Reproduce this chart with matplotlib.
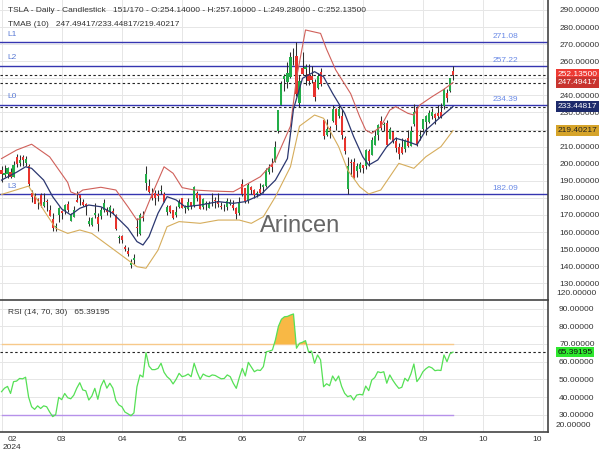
import matplotlib
matplotlib.use('Agg')
import matplotlib.pyplot as plt
from matplotlib.transforms import blended_transform_factory, ScaledTranslation
import numpy as np

plt.rcParams['font.family'] = ['Liberation Sans', 'DejaVu Sans']

# daily candles, bar index 0..150
opens = [196.13, 193.36, 194.00, 195.31, 192.29, 204.04, 200.42, 204.18, 200.52, 198.73,
         183.05, 181.27, 179.16, 181.50, 175.45, 177.77, 173.05, 167.77, 163.16, 170.02,
         172.36, 173.00, 176.39, 166.69, 168.76, 178.58, 181.41, 177.45, 176.17, 164.75,
         164.02, 170.07, 169.08, 169.34, 172.91, 173.04, 172.55, 172.34, 170.24, 156.74,
         157.64, 151.25, 148.97, 140.56, 143.33, 162.84, 158.96, 168.85, 188.42, 186.98,
         182.00, 182.86, 182.10, 183.80, 182.40, 171.59, 175.01, 173.05, 170.00, 174.50,
         179.90, 174.10, 173.55, 177.56, 175.51, 182.85, 181.80, 174.84, 176.40, 174.19,
         178.58, 178.50, 178.13, 174.78, 175.35, 174.60, 176.13, 176.06, 173.92, 171.12,
         188.39, 185.80, 177.92, 186.56, 184.68, 182.30, 184.97, 186.54, 186.92, 195.17,
         199.55, 201.02, 218.89, 234.56, 249.81, 247.71, 251.00, 262.80, 263.30, 235.80,
         255.97, 255.31, 252.73, 251.09, 247.79, 244.21, 253.60, 225.42, 216.80, 221.19,
         224.90, 232.25, 227.90, 227.69, 214.88, 185.22, 200.75, 200.77, 195.70, 197.05,
         199.02, 198.47, 207.39, 205.02, 211.15, 217.07, 224.88, 222.67, 223.82, 214.46,
         218.75, 213.25, 209.72, 209.80, 208.63, 215.26, 210.59, 223.49, 232.60, 216.20,
         220.07, 224.55, 224.66, 228.00, 229.30, 229.45, 230.09, 234.00, 241.52, 242.61,
         254.14]
highs = [198.60, 199.44, 198.32, 197.57, 201.78, 205.60, 205.30, 205.28, 204.52, 199.75,
         184.59, 183.10, 180.04, 182.73, 182.87, 179.43, 176.05, 171.17, 165.18, 174.72,
         172.82, 176.25, 178.18, 171.20, 175.24, 184.25, 181.91, 179.57, 176.75, 168.69,
         168.82, 177.19, 170.86, 174.50, 179.22, 174.93, 175.88, 173.81, 170.69, 158.19,
         158.33, 152.20, 150.94, 144.44, 147.26, 167.97, 170.88, 172.12, 198.87, 190.95,
         185.86, 184.60, 184.78, 187.56, 183.26, 176.06, 175.62, 173.06, 175.40, 179.49,
         179.90, 175.79, 179.63, 177.75, 186.88, 183.80, 181.90, 180.08, 178.25, 178.15,
         182.67, 180.32, 182.64, 177.76, 176.15, 179.73, 179.35, 178.57, 174.75, 180.55,
         191.08, 186.00, 188.81, 187.20, 185.21, 183.95, 188.80, 188.00, 197.76, 199.84,
         203.20, 213.23, 231.30, 248.35, 252.37, 259.44, 265.61, 267.59, 271.00, 251.84,
         265.60, 258.62, 258.47, 257.14, 249.44, 253.21, 255.76, 225.99, 226.00, 222.28,
         234.27, 232.41, 234.68, 231.87, 216.13, 203.88, 202.90, 203.49, 200.70, 200.88,
         199.26, 208.49, 208.44, 215.88, 219.80, 222.98, 228.22, 224.66, 225.88, 221.48,
         219.09, 215.66, 211.84, 214.89, 214.57, 219.90, 222.22, 235.00, 233.60, 219.87,
         226.40, 228.47, 231.45, 232.67, 229.96, 234.57, 235.68, 244.24, 243.99, 250.00,
         257.16]
lows = [189.13, 191.95, 191.36, 191.50, 192.00, 198.26, 198.44, 198.45, 198.50, 186.72,
        177.57, 176.76, 173.70, 174.70, 174.80, 172.41, 169.15, 160.51, 160.76, 165.90,
        167.42, 170.82, 171.80, 166.30, 168.73, 177.67, 176.00, 175.30, 170.21, 163.40,
        163.28, 168.01, 160.51, 167.79, 171.92, 170.01, 168.51, 170.36, 161.38, 153.75,
        153.78, 148.70, 146.22, 138.80, 141.11, 157.51, 158.36, 166.37, 184.54, 182.84,
        179.01, 176.02, 178.42, 182.20, 177.40, 170.15, 171.37, 167.75, 169.00, 174.07,
        173.87, 171.43, 172.75, 173.52, 174.71, 178.12, 173.26, 173.73, 173.16, 173.93,
        175.38, 173.82, 174.49, 173.52, 172.13, 172.73, 175.58, 173.17, 167.41, 169.80,
        181.23, 176.92, 177.00, 182.37, 179.66, 180.69, 182.26, 182.58, 186.36, 194.20,
        195.26, 200.85, 218.06, 234.25, 242.46, 244.57, 250.30, 257.86, 239.65, 233.09,
        251.73, 245.80, 246.18, 247.20, 236.83, 243.75, 245.63, 214.71, 216.23, 215.33,
        224.70, 220.00, 226.79, 214.33, 205.78, 182.00, 192.67, 191.48, 192.04, 195.11,
        194.67, 197.06, 198.75, 204.82, 210.80, 214.09, 219.56, 218.86, 210.35, 214.21,
        212.11, 206.94, 202.59, 205.97, 207.03, 209.64, 210.57, 222.25, 210.51, 213.67,
        218.64, 216.80, 223.83, 226.32, 223.53, 226.55, 226.88, 232.13, 235.92, 241.92,
        249.28]
closes = [193.76, 194.77, 197.41, 191.97, 199.40, 199.73, 202.04, 201.88, 202.64, 188.14,
          180.74, 176.54, 178.65, 175.34, 177.77, 177.54, 169.48, 162.50, 163.57, 173.80,
          171.32, 175.66, 172.82, 170.83, 172.63, 177.67, 179.83, 175.79, 175.22, 166.63,
          168.38, 171.11, 164.90, 172.98, 176.88, 171.76, 174.60, 171.05, 161.48, 157.11,
          155.45, 149.93, 147.05, 142.05, 144.68, 162.13, 170.18, 168.29, 194.05, 183.28,
          179.99, 180.01, 181.19, 184.76, 177.81, 174.72, 171.97, 168.47, 171.89, 177.55,
          173.99, 174.84, 177.46, 174.95, 186.60, 180.11, 173.74, 179.24, 176.75, 176.19,
          178.79, 178.08, 176.29, 174.77, 175.00, 177.94, 177.48, 173.79, 170.66, 177.29,
          182.47, 178.01, 187.44, 184.86, 181.57, 183.01, 182.58, 187.35, 196.37, 197.42,
          197.88, 209.86, 231.26, 246.39, 251.52, 252.94, 262.33, 263.26, 241.03, 248.23,
          252.64, 256.56, 248.50, 249.23, 239.20, 251.51, 246.38, 215.99, 220.25, 219.80,
          232.10, 222.62, 232.07, 216.86, 207.67, 198.88, 200.64, 191.76, 198.84, 200.00,
          197.49, 207.83, 201.38, 214.14, 216.12, 222.72, 221.10, 223.27, 210.66, 220.32,
          213.21, 209.21, 205.75, 206.28, 214.11, 210.60, 219.41, 230.17, 210.73, 216.27,
          226.17, 228.13, 229.81, 230.29, 226.78, 227.87, 227.20, 243.92, 238.25, 250.00,
          252.135]

# TMA bands (bar index, value)
upper_x = [0, 5, 10, 16, 22, 23, 25, 27, 33, 38, 42, 45, 47, 50, 54, 57, 60, 64, 70, 77, 80, 86,
           91, 96, 98, 101, 106, 108, 111, 116, 119, 121, 123, 126, 129, 131, 135, 137, 139, 143, 147, 150]
upper_v = [203, 208, 211.4, 204, 189, 183.5, 182, 184.6, 186.2, 184.6, 174.8, 167, 169, 182, 198.2,
           194.4, 186, 184.6, 184, 183.6, 186.5, 192.4, 202, 222, 250, 278.3, 276.3, 267, 255, 241,
           227.5, 219.7, 217.8, 221.7, 231.4, 233.4, 229.5, 228.5, 234.4, 239.2, 243.6, 247.49417]
mid_x = [0, 5, 8, 10, 14, 17, 20, 23, 26, 29, 33, 37, 42, 45, 47, 49, 52, 55, 58, 61, 66, 72, 77,
         81, 86, 91, 95, 97, 100, 104, 107, 110, 114, 117, 120, 122, 125, 128, 131, 135, 138, 141, 146, 150]
mid_v = [190.4, 195, 198.2, 197.3, 190.4, 180.7, 173.5, 170, 173.9, 175.8, 174.8, 170.9, 162.2,
         154.4, 152.4, 157.3, 171, 180.7, 178.8, 174.8, 175.8, 177.8, 176.8, 177.8, 181.7, 190.4,
         203, 232, 250, 253.9, 250.9, 241.2, 229.5, 215.8, 204.1, 199.2, 202.2, 210, 214.9, 212.9,
         211, 219.7, 227.5, 233.44817]
lower_x = [0, 9, 14, 18, 22, 26, 30, 36, 42, 45, 48, 52, 55, 59, 66, 72, 79, 83, 87, 91, 96, 99,
           104, 107, 109, 112, 115, 119, 122, 126, 129, 132, 137, 141, 146, 150]
lower_v = [182, 186.9, 172.9, 162.2, 159.2, 161.2, 159.2, 151.4, 143.6, 139.7, 138.8, 149.4, 163.1,
           166.1, 165.1, 167, 167, 165.1, 169, 180.7, 198.2, 222, 228.5, 226.6, 219.7, 210, 196.3,
           186.5, 182.3, 184.6, 192.4, 200.2, 197.3, 204.1, 210, 219.40217]

# RSI(14) per bar
rsi = [43.0, 45.0, 46.0, 42.0, 48.7, 49.0, 50.5, 50.3, 51.2, 40.0,
       34.5, 33.0, 35.0, 33.5, 35.0, 34.5, 31.5, 28.9, 30.0, 39.8,
       38.5, 42.0, 39.6, 39.0, 41.0, 45.0, 48.1, 44.0, 43.5, 38.3,
       40.5, 44.9, 38.7, 46.0, 49.6, 45.0, 47.8, 45.0, 38.0, 35.5,
       34.5, 31.5, 30.5, 29.4, 31.0, 45.8, 52.5, 51.3, 65.1, 57.5,
       55.5, 55.5, 56.2, 59.1, 54.0, 51.5, 50.0, 47.4, 50.0, 53.4,
       51.5, 52.0, 53.0, 51.5, 59.1, 54.0, 50.0, 53.0, 52.0, 51.5,
       52.5, 52.2, 51.2, 50.3, 50.5, 52.5, 51.5, 47.8, 44.9, 51.0,
       56.2, 51.9, 59.6, 57.0, 54.3, 55.3, 55.0, 57.2, 65.6, 66.0,
       66.6, 72.3, 80.0, 84.0, 85.4, 85.6, 86.4, 87.0, 67.6, 70.4,
       71.0, 71.9, 65.6, 66.0, 59.1, 63.8, 61.0, 45.8, 47.5, 46.4,
       51.9, 49.1, 51.9, 46.0, 42.1, 40.2, 40.8, 38.3, 41.1, 41.5,
       41.2, 46.2, 43.6, 49.6, 51.0, 54.3, 53.8, 54.3, 47.8, 52.5,
       49.5, 47.0, 44.9, 45.5, 50.6, 49.0, 53.0, 58.7, 48.7, 51.0,
       54.3, 56.0, 57.2, 56.5, 54.9, 55.2, 55.0, 63.8, 60.0, 64.5,
       65.39195]

levels = {'L1': 271.08, 'L2': 257.22, 'L0': 234.39, 'L3': 182.09}
last_close = 252.135
tma_last = [247.49417, 233.44817, 219.40217]
price_ticks = [130, 140, 150, 160, 170, 180, 190, 200, 210, 230, 240, 260, 270, 280, 290]
tick_bars = [0, 20, 40, 60, 80, 100, 120, 140, 160, 180]
tick_names = ['02\n2024', '03', '04', '05', '06', '07', '08', '09', '10', '10']

green = '#22ad48'
red = '#e8332d'
txt = '#333333'
fs = 6

fig = plt.figure(figsize=(6, 4.5), dpi=100)
ax = fig.add_axes([0, 1 - 300 / 450, 548 / 600, 300 / 450])
ax2 = fig.add_axes([0, 1 - 432 / 450, 548 / 600, 132 / 450], sharex=ax)

x = np.arange(len(closes))
o = np.array(opens); c = np.array(closes)
col = np.where(c >= o, green, red)
ax.vlines(x, lows, highs, color='#2e2e2e', lw=0.75, zorder=3)
ax.bar(x, np.maximum(np.abs(c - o), 0.4), bottom=np.minimum(o, c), width=0.7,
       color=col, zorder=4, linewidth=0)

ax.plot(upper_x, upper_v, color='#d0605a', lw=0.8, zorder=5)
ax.plot(mid_x, mid_v, color='#2b3770', lw=0.9, zorder=5)
ax.plot(lower_x, lower_v, color='#d6ad5c', lw=0.8, zorder=5)

ax.set_xlim(-0.5, 181.56)
ax.set_ylim(120.2, 295.85)

for name, v in levels.items():
    ax.axhline(v, color='#3535b0', lw=1.0, zorder=2)
    ax.text(2, v + 4.7, name, color='#5b7bd5', fontsize=fs, va='center', ha='left')
    ax.text(163.0, v + 3.2, f'{v:.2f}', color='#6a8ae6', fontsize=fs, va='center', ha='left')

for v in [last_close] + tma_last:
    ax.axhline(v, color='#222222', lw=0.8, ls=(0, (2.2, 2.2)), zorder=2)

ax.yaxis.tick_right()
ax.set_yticks(price_ticks)
ax.yaxis.set_major_formatter(matplotlib.ticker.FormatStrFormatter('%.5f'))
ax.tick_params(axis='y', length=0, pad=8, labelsize=fs, labelcolor=txt)
ax.tick_params(axis='x', length=0, labelbottom=False)
ax.set_xticks(tick_bars)
ax.grid(color='#e6e6e6', lw=0.7, zorder=0)
# hidden labels still get their grid line
for v in [220, 250]:
    ax.axhline(v, color='#e6e6e6', lw=0.7, zorder=0)
ax.set_axisbelow(True)
for s in ['left', 'top', 'bottom']:
    ax.spines[s].set_visible(False)
ax.spines['right'].set_color('#444444')
ax.spines['right'].set_linewidth(1.2)
tr = blended_transform_factory(ax.transAxes, ax.transData)
ax.text(1 + 8 / 548, 120.2 + 7 / 1.708, '120.00000', transform=tr,
        fontsize=fs, color=txt, va='center', ha='left', clip_on=False)

boxes = [(last_close, '#ee3a33', 'white'), (tma_last[0], '#c8342f', 'white'),
         (tma_last[1], '#1d2a6b', 'white'), (tma_last[2], '#d6a42a', '#222222')]
for v, fc, tc in boxes:
    ax.text(1 + 9.5 / 548, v, f'{v:.5f}', transform=tr, fontsize=fs, color=tc, va='center', ha='left',
            bbox=dict(boxstyle='square,pad=0.22', fc=fc, ec='none'), clip_on=False, zorder=10)

ax.text(0.5474, 0.2277, 'Arincen', transform=ax.transAxes, fontsize=17, color='#666666',
        ha='center', va='baseline', zorder=1)

fig.text(8 / 600, 1 - 10 / 450,
         'TSLA - Daily - Candlestick   151/170 - O:254.14000 - H:257.16000 - L:249.28000 - C:252.13500',
         fontsize=fs, color=txt, va='center', ha='left')
fig.text(8 / 600, 1 - 25 / 450, 'TMAB (10)   247.49417/233.44817/219.40217',
         fontsize=fs, color=txt, va='center', ha='left')

# RSI panel
r = np.array(rsi)
ax2.plot(x, r, color='#55e055', lw=0.9, zorder=4)
ax2.fill_between(x, r, 70, where=r > 70, interpolate=True, color='#f8b845', lw=0, zorder=3)
ax2.fill_between(x, r, 30, where=r < 30, interpolate=True, color='#7d86c8', lw=0, zorder=3)
ax2.plot([0, 150], [70, 70], color='#f7c98a', lw=1.0, zorder=2)
ax2.plot([0, 150], [30, 30], color='#b691ea', lw=1.0, zorder=2)
ax2.axhline(rsi[-1], color='#222222', lw=0.8, ls=(0, (2.2, 2.2)), zorder=2)
ax2.set_ylim(20.2, 94.9)
ax2.yaxis.tick_right()
ax2.set_yticks(np.arange(30, 91, 10))
ax2.yaxis.set_major_formatter(matplotlib.ticker.FormatStrFormatter('%.5f'))
ax2.tick_params(axis='y', length=0, pad=8, labelsize=fs, labelcolor=txt)
ax2.set_xticks(tick_bars)
ax2.set_xticklabels(tick_names)
ax2.tick_params(axis='x', length=0, pad=3, labelsize=fs, labelcolor=txt)
labs = ax2.get_xticklabels()
labs[0].set_transform(labs[0].get_transform() + ScaledTranslation(10.5 / 100, 0, fig.dpi_scale_trans))
labs[-1].set_transform(labs[-1].get_transform() + ScaledTranslation(-6 / 100, 0, fig.dpi_scale_trans))
ax2.grid(color='#e6e6e6', lw=0.7, zorder=0)
ax2.set_axisbelow(True)
ax2.spines['left'].set_visible(False)
for s in ['top', 'bottom', 'right']:
    ax2.spines[s].set_color('#444444')
    ax2.spines[s].set_linewidth(1.2)
tr2 = blended_transform_factory(ax2.transAxes, ax2.transData)
ax2.text(1 + 8 / 548, 20.2 + 7 / 1.7675, '20.00000', transform=tr2, fontsize=fs, color=txt,
         va='center', ha='left', clip_on=False)
ax2.text(1 + 9.5 / 548, rsi[-1], f'{rsi[-1]:.5f}', transform=tr2, fontsize=fs, color='#111111',
         va='center', ha='left', bbox=dict(boxstyle='square,pad=0.22', fc='#2ee82e', ec='none'),
         clip_on=False, zorder=10)
ax2.text(8 / 548, 1 - 12 / 132, 'RSI (14, 70, 30)   65.39195', transform=ax2.transAxes,
         fontsize=fs, color=txt, va='center', ha='left')

fig.savefig('out.png', dpi=100)
